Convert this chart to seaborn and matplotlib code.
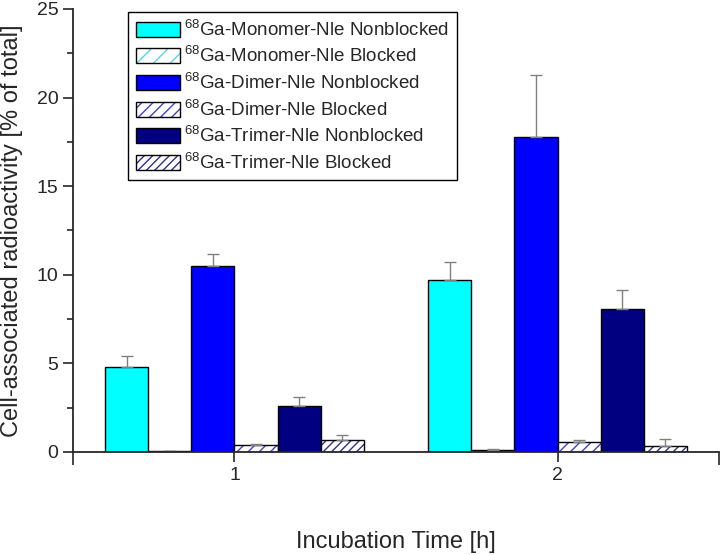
import numpy as np
import pandas as pd
import matplotlib
matplotlib.use("Agg")
import matplotlib.pyplot as plt
import seaborn as sns

# data
times = ["1", "2"]
series = [
    "$^{68}$Ga-Monomer-Nle Nonblocked",
    "$^{68}$Ga-Monomer-Nle Blocked",
    "$^{68}$Ga-Dimer-Nle Nonblocked",
    "$^{68}$Ga-Dimer-Nle Blocked",
    "$^{68}$Ga-Trimer-Nle Nonblocked",
    "$^{68}$Ga-Trimer-Nle Blocked",
]
mean_1h = [4.8, 0.05, 10.5, 0.4, 2.6, 0.65]
mean_2h = [9.7, 0.1, 17.8, 0.55, 8.05, 0.35]
sd_1h = [0.6, 0.02, 0.65, 0.05, 0.5, 0.3]
sd_2h = [1.0, 0.05, 3.5, 0.1, 1.1, 0.4]

fill_colors = ["#00ffff", "white", "#0000ff", "white", "#000080", "white"]
hatch_colors = [None, "#50d8e8", None, "#4040d0", None, "#303090"]
hatches = [None, "//", None, "///", None, "////"]

rows = []
for i, s in enumerate(series):
    rows.append({"Time": times[0], "Series": s, "Value": mean_1h[i], "SD": sd_1h[i]})
    rows.append({"Time": times[1], "Series": s, "Value": mean_2h[i], "SD": sd_2h[i]})
df = pd.DataFrame(rows)

sns.set_style("ticks")
plt.rcParams["font.family"] = ["Liberation Sans", "DejaVu Sans"]
plt.rcParams["mathtext.fontset"] = "custom"
plt.rcParams["mathtext.rm"] = "Liberation Sans"
plt.rcParams["mathtext.it"] = "Liberation Sans:italic"
plt.rcParams["hatch.linewidth"] = 1.0

fig = plt.figure(figsize=(7.22, 5.55), dpi=100)
ax = fig.add_axes([0.101, 0.1856, 0.895, 0.7982])

sns.barplot(data=df, x="Time", y="Value", hue="Series", hue_order=series,
            order=times, palette=fill_colors, errorbar=None, width=0.8,
            edgecolor="black", linewidth=1.0, saturation=1, legend=False, ax=ax)

bar_conts = list(ax.containers)
for i, cont in enumerate(bar_conts):
    sds = df[df["Series"] == series[i]].set_index("Time").loc[times, "SD"].values
    xs, ys = [], []
    for bar in cont.patches:
        bar.set_facecolor(fill_colors[i])
        if hatches[i] is not None:
            bar.set_hatch(hatches[i])
            bar._hatch_color = matplotlib.colors.to_rgba(hatch_colors[i])
        xs.append(bar.get_x() + bar.get_width() / 2)
        ys.append(bar.get_height())
    ax.errorbar(xs, ys, yerr=[np.zeros(len(sds)), sds], fmt="none",
                ecolor="#808080", elinewidth=1.0, capsize=4.5, capthick=1.0, zorder=1)

ax.set_xlim(-0.5, 1.5)
ax.set_ylim(0, 25)
ax.set_yticks([0, 5, 10, 15, 20, 25])
ax.set_yticks([2.5, 7.5, 12.5, 17.5, 22.5], minor=True)
ax.set_xticks([-0.5, 1.5], minor=True)
ax.tick_params(axis="both", which="major", labelsize=14, length=7, width=1.2, direction="out")
ax.tick_params(axis="both", which="minor", length=4, width=1.2, direction="out")
ax.tick_params(axis="x", which="minor", length=9)
for side in ["top", "right"]:
    ax.spines[side].set_visible(False)
for side in ["left", "bottom"]:
    ax.spines[side].set_linewidth(1.3)

ax.set_xlabel("Incubation Time [h]", fontsize=17, labelpad=34)
ax.set_ylabel("Cell-associated radioactivity [% of total]", fontsize=17, labelpad=10)

leg = ax.legend(handles=bar_conts, labels=series, loc="upper left",
                bbox_to_anchor=(128 / 722, 1 - 12 / 555),
                bbox_transform=fig.transFigure, borderaxespad=0,
                fontsize=13.5, frameon=True,
                fancybox=False, framealpha=1, edgecolor="black",
                handlelength=2.35, handleheight=0.85, labelspacing=0.35,
                borderpad=0.4, handletextpad=0.25)
leg.get_frame().set_linewidth(1.0)

fig.savefig("out.png", dpi=100)
